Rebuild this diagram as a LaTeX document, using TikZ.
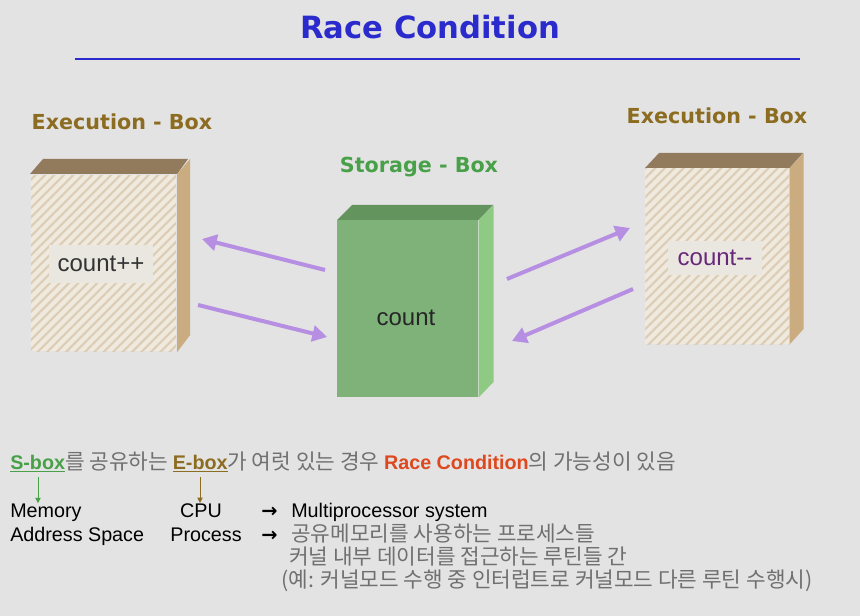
\documentclass[tikz,border=0pt]{standalone}
\usepackage{fontspec}
\setmainfont{Liberation Sans}
\newfontfamily\verd{DejaVu Sans}
\newfontfamily\kr{Noto Sans CJK KR}
\usetikzlibrary{positioning,arrows.meta,patterns.meta}

\definecolor{bggray}{RGB}{227,227,227}
\definecolor{titleblue}{RGB}{42,42,205}
\definecolor{eolive}{RGB}{140,108,32}
\definecolor{sgreen}{RGB}{72,160,72}
\definecolor{ebeige}{RGB}{240,233,222}
\definecolor{estripe}{RGB}{220,205,182}
\definecolor{elabel}{RGB}{234,230,224}
\definecolor{etop}{RGB}{146,122,92}
\definecolor{eside}{RGB}{202,172,128}
\definecolor{sfront}{RGB}{126,178,121}
\definecolor{stop}{RGB}{100,148,94}
\definecolor{sside}{RGB}{142,202,132}
\definecolor{swappurple}{RGB}{182,142,226}
\definecolor{decpurple}{RGB}{104,40,122}
\definecolor{racered}{RGB}{222,72,30}
\definecolor{krgray}{RGB}{112,112,112}

\tikzset{
  boxtitle/.style={font=\verd\bfseries\fontsize{15.5}{18}\selectfont},
  efront/.style={anchor=north west, inner sep=0pt, preaction={fill=ebeige},
    pattern={Lines[angle=45,distance=5pt,line width=1.6pt]}, pattern color=estripe},
  sfrontbox/.style={anchor=north west, inner sep=0pt, fill=sfront},
  cnt/.style={font=\fontsize{18}{20}\selectfont, inner sep=0pt, text=black!80},
  cntlabel/.style={cnt, fill=elabel, minimum width=78pt, minimum height=28pt},
  swap/.style={line width=3pt, draw=swappurple, -{Triangle[length=11pt,width=12pt]}},
  txt/.style={inner sep=0pt, anchor=base west, font=\fontsize{14.8}{17}\selectfont},
  krtxt/.style={txt, font=\fontsize{16}{18}\selectfont\kr, text=krgray},
  leadsto/.style={txt, font=\verd\bfseries\fontsize{14.5}{17}\selectfont},
  pointer/.style={line width=0.6pt, -{Triangle[length=4pt,width=4pt]}}
}

\begin{document}
\begin{tikzpicture}[x=0.75pt,y=-0.75pt]
\fill[bggray] (0,0) rectangle (860,616);
\useasboundingbox (0,0) rectangle (860,616);

% title
\node[font=\verd\bfseries\fontsize{23}{27}\selectfont, text=titleblue] (title) at (430,27) {Race Condition};
\draw[titleblue, line width=2.2pt] (75,59) -- (800,59);

% box titles
\node[boxtitle, text=eolive] (lttl) at (122,122) {Execution - Box};
\node[boxtitle, text=eolive] (rttl) at (717,116) {Execution - Box};
\node[boxtitle, text=sgreen] (sttl) at (419,167) {Storage - Box};

% left execution box
\node[efront, minimum width=108.75pt, minimum height=132pt] (lbox) at (30,174) {};
\fill[etop] (lbox.north west) -- ++(13,-15) -- ++(145,0) -- (lbox.north east) -- cycle;
\fill[eside] (lbox.north east) -- ++(13,-15) -- ++(0,176) -- (lbox.south east) -- cycle;
\node[cntlabel] (inc) at (101,264) {count++};

% storage box
\node[sfrontbox, minimum width=105.75pt, minimum height=132.75pt] (sbox) at (337,220) {};
\fill[stop] (sbox.north west) -- ++(15,-15) -- ++(141,0) -- (sbox.north east) -- cycle;
\fill[sside] (sbox.north east) -- ++(15,-15) -- ++(0,177) -- (sbox.south east) -- cycle;
\node[cnt, text=black!85] (val) at (406,318) {count};

% right execution box
\node[efront, minimum width=108pt, minimum height=132pt] (rbox) at (645,168) {};
\fill[etop] (rbox.north west) -- ++(14,-15) -- ++(144,0) -- (rbox.north east) -- cycle;
\fill[eside] (rbox.north east) -- ++(14,-15) -- ++(0,176) -- (rbox.south east) -- cycle;
\node[cntlabel, minimum width=71pt, minimum height=26pt, text=decpurple] (dec) at (715,258) {count-{}-};

% reads and writes
\coordinate (lrd1) at (325,270);
\coordinate (lrd2) at (202,239);
\coordinate (lwr1) at (198,305);
\coordinate (lwr2) at (327,337);
\coordinate (rrd1) at (507,279);
\coordinate (rrd2) at (630,228);
\coordinate (rwr1) at (633,289);
\coordinate (rwr2) at (512,341);
\draw[swap] (lrd1) -- (lrd2);
\draw[swap] (lwr1) -- (lwr2);
\draw[swap] (rrd1) -- (rrd2);
\draw[swap] (rwr1) -- (rwr2);

% notes
\node[txt, text=krgray] (note) at (10,469) {\textcolor{sgreen}{\textbf{\underline{S-box}}}{\kr\fontsize{16}{18}\selectfont 를 공유하는 }\textcolor{eolive}{\textbf{\underline{E-box}}}{\kr\fontsize{16}{18}\selectfont 가 여럿 있는 경우 }\textcolor{racered}{\textbf{Race Condition}}{\kr\fontsize{16}{18}\selectfont 의 가능성이 있음}};
\node[txt] (mem) at (10,517) {Memory};
\node[txt] (addr) at (10,541) {Address Space};
\node[txt, anchor=base] (cpu) at (201,517) {CPU};
\node[txt, anchor=base] (proc) at (206,541) {Process};
\node[leadsto] (to1) at (261,517) {→};
\node[leadsto] (to2) at (261,541) {→};
\node[txt] (multi) at (291,517) {Multiprocessor system};
\node[krtxt] (shm) at (291,541) {공유메모리를 사용하는 프로세스들};
\node[krtxt] (kern) at (289,564) {커널 내부 데이터를 접근하는 루틴들 간};
\node[krtxt] (intr) at (281,587) {(예: 커널모드 수행 중 인터럽트로 커널모드 다른 루틴 수행시)};

\coordinate (sdown) at (38,477);
\coordinate (edown) at (200,477);
\draw[pointer, sgreen] (sdown) -- (sdown |- mem.north);
\draw[pointer, eolive] (edown) -- (edown |- cpu.north);
\end{tikzpicture}
\end{document}
